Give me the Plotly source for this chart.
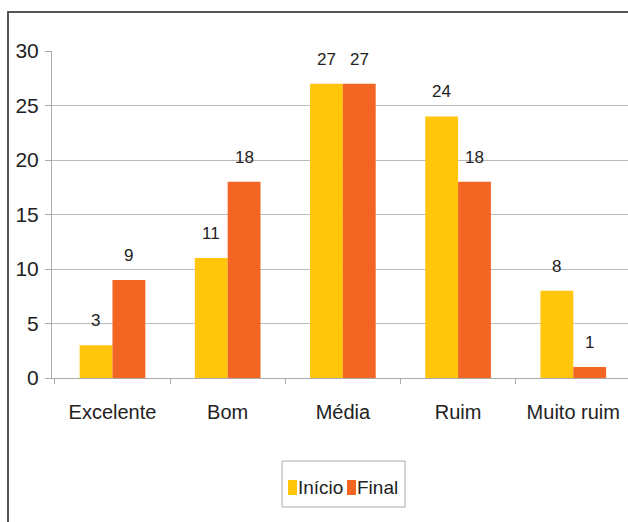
import plotly.graph_objects as go

categories = ["Excelente", "Bom", "Média", "Ruim", "Muito ruim"]
inicio = [3, 11, 27, 24, 8]
final = [9, 18, 27, 18, 1]
series_names = ["Início", "Final"]
colors = ["#FFC60B", "#F26522"]
y_ticks = [0, 5, 10, 15, 20, 25, 30]

FONT = "Liberation Sans, Arial, sans-serif"
W, H = 628, 522
ML, MR, MT, MB = 52, 0, 51, 144
PW, PH = W - ML - MR, H - MT - MB


def px(x):
    return (x - ML) / PW


def py(y):
    return (H - MB - y) / PH


fig = go.Figure()
for name, vals, col in zip(series_names, [inicio, final], colors):
    fig.add_trace(go.Bar(name=name, x=categories, y=vals, marker=dict(color=col, line=dict(width=0)),
                         showlegend=False))

ann = []
for vals, shift in [(inicio, -16.5), (final, 16.5)]:
    for c, v in zip(categories, vals):
        ann.append(dict(x=c, y=v, xref="x", yref="y", text=str(v), showarrow=False,
                        xshift=shift, yshift=13, yanchor="bottom",
                        font=dict(size=17, color="#222", family=FONT)))

shapes = [dict(type="rect", xref="paper", yref="paper", x0=px(8), y0=py(560), x1=px(660), y1=py(12),
               line=dict(color="#555", width=2), fillcolor="rgba(0,0,0,0)", layer="below")]

# legend (built from series names / colours)
shapes.append(dict(type="rect", xref="paper", yref="paper", x0=px(282), y0=py(507), x1=px(405), y1=py(461),
                   line=dict(color="#aaa", width=1), fillcolor="white"))
leg_x = [288, 347]
for name, col, lx in zip(series_names, colors, leg_x):
    shapes.append(dict(type="rect", xref="paper", yref="paper", x0=px(lx), y0=py(495), x1=px(lx + 9),
                       y1=py(480), line=dict(width=0), fillcolor=col))
    ann.append(dict(x=px(lx + 9), y=py(487.5), xref="paper", yref="paper", text=name, showarrow=False,
                    xanchor="left", yanchor="middle", xshift=-1,
                    font=dict(size=19, color="#222", family=FONT)))

fig.update_layout(
    width=W, height=H,
    margin=dict(l=ML, r=MR, t=MT, b=MB),
    paper_bgcolor="white", plot_bgcolor="white",
    barmode="group", bargap=0.43, bargroupgap=0,
    font=dict(family=FONT, size=18, color="#222"),
    showlegend=False,
    annotations=ann,
    shapes=shapes,
)
fig.update_xaxes(range=[-0.525, 4.475], showline=True, linecolor="#aaa", linewidth=1, ticks="outside",
                 ticklen=5, tickcolor="#aaa", tickson="boundaries", showgrid=False,
                 ticklabelstandoff=16,
                 tickfont=dict(size=20, family=FONT, color="#222"))
fig.update_yaxes(range=[0, 30], tickvals=y_ticks, showline=True, linecolor="#aaa", linewidth=1,
                 ticks="outside", ticklen=6, tickcolor="#aaa", showgrid=True, gridcolor="#bbb",
                 gridwidth=1, zeroline=False, ticklabelstandoff=2,
                 tickfont=dict(size=21, family=FONT, color="#222"))

fig.write_html("out.html")
